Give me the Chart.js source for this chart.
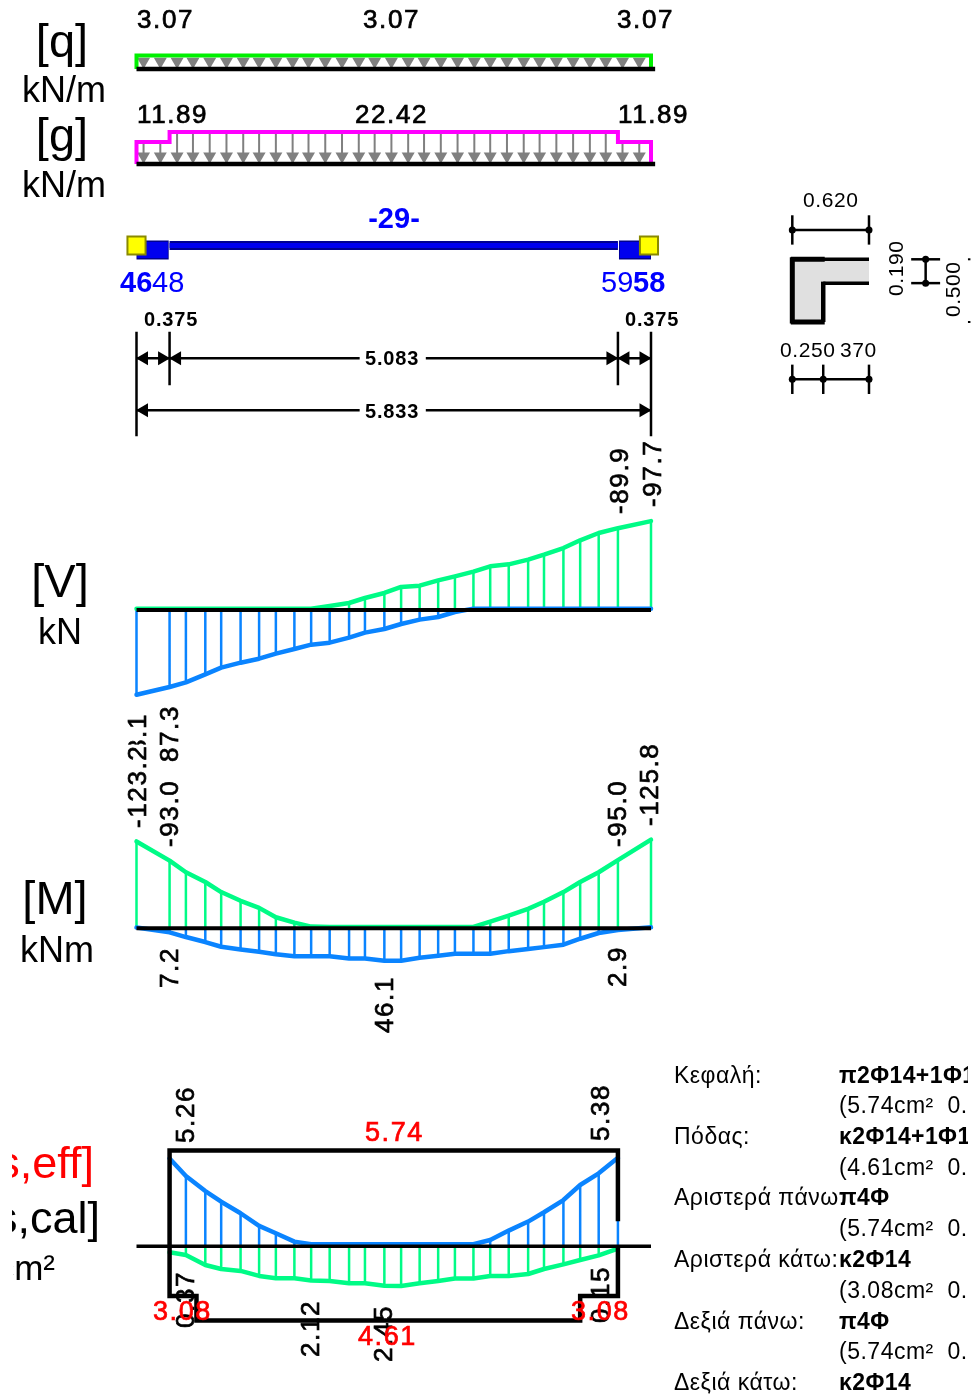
<!DOCTYPE html>
<html>
<head>
<meta charset="utf-8">
<style>
html, body { margin: 0; padding: 0; background: #fff; }
#wrap { position: relative; width: 971px; height: 1397px; overflow: hidden; }
#beam-chart { position: absolute; left: 0; top: 0; }
#section-chart { position: absolute; left: 760px; top: 170px; }
</style>
<script src="https://cdn.jsdelivr.net/npm/chart.js@4/dist/chart.umd.min.js"></script>
</head>
<body>
<div id="wrap">
<canvas id="beam-chart" width="971" height="1397"></canvas>
<canvas id="section-chart" width="211" height="240"></canvas>
</div>
<script>
// stations along the beam, metres
var stations = [0, 0.375, 0.56, 0.78, 0.96, 1.18, 1.39, 1.58, 1.79, 1.98, 2.19, 2.41, 2.59, 2.81, 3.00, 3.21, 3.42, 3.61, 3.82, 4.01, 4.22, 4.44, 4.62, 4.84, 5.03, 5.24, 5.458, 5.833]

// shear, kN
var shearBlue = [93.1, 84.6, 79.5, 70.7, 63.4, 57.9, 53.5, 48.0, 42.9, 38.1, 35.9, 30.4, 24.9, 20.9, 15.4, 10.6, 7.7, 2.2, -1.5, -1.5, -1.5, -1.5, -1.5, -1.5, -1.5, -1.5, -1.5, -1.5]
var shearGreen = [-1.5, -1.5, -1.5, -1.5, -1.5, -1.5, -1.5, -1.5, -1.5, -1.5, -4.4, -7.7, -13.2, -18.7, -25.3, -26.7, -32.6, -37.0, -42.1, -48.0, -50.2, -55.3, -60.8, -68.1, -76.6, -84.6, -89.9, -97.7]

// moment, kNm
var momentBlue = [-1, 5.7, 12.4, 19.5, 26.2, 30.0, 33.3, 36.7, 39.5, 39.5, 39.5, 42.9, 42.9, 46.1, 46.1, 41.9, 39.0, 36.2, 36.2, 36.2, 32.4, 29.5, 26.7, 23.3, 14.8, 6.7, 2.4, -1.4]
var momentGreen = [-123.2, -96.0, -79.5, -65.7, -51.4, -39.0, -29.0, -15.7, -8.1, -2.4, -2, -2, -2, -2, -2, -2, -2, -2, -2, -9.5, -18.1, -27.6, -37.6, -51.4, -65.7, -79.5, -96.7, -125.8]

// reinforcement between the supports, cm2
var asStations = [0.375, 0.56, 0.78, 0.96, 1.18, 1.39, 1.58, 1.79, 1.98, 2.19, 2.41, 2.59, 2.81, 3.00, 3.21, 3.42, 3.61, 3.82, 4.01, 4.22, 4.44, 4.62, 4.84, 5.03, 5.24, 5.458]
var asTopCal = [5.26, 4.21, 3.31, 2.67, 1.98, 1.22, 0.78, 0.28, 0.12, 0.12, 0.12, 0.12, 0.12, 0.12, 0.12, 0.12, 0.12, 0.12, 0.38, 0.94, 1.48, 2.04, 2.77, 3.67, 4.37, 5.3]
var asBottomCal = [0.37, 0.54, 1.16, 1.41, 1.53, 1.84, 1.99, 1.99, 2.12, 2.15, 2.30, 2.30, 2.45, 2.46, 2.30, 2.15, 2.00, 2.00, 1.84, 1.84, 1.72, 1.41, 1.12, 0.85, 0.56, 0.15]
var asTopEffX = [0.375, 0.375, 5.458, 5.458]
var asTopEff = [0, 5.74, 5.74, 1.5]
var asBottomEffX = [5.458, 5.458, 5.03, 5.03, 0.68, 0.68, 0.375, 0.375]
var asBottomEff = [0, 3.08, 3.08, 4.61, 4.61, 3.08, 3.08, 0]

// loads, kN/m
var qX = [0, 0, 5.833, 5.833]
var qLoad = [0, 3.07, 3.07, 0]
var gFloor = -11.26
var gX = [0, 0, 0.375, 0.375, 5.458, 5.458, 5.833, 5.833]
var gLoad = [gFloor, 11.89, 11.89, 22.42, 22.42, 11.89, 11.89, gFloor]
var loadArrows = [0.08, 0.27, 0.46, 0.64, 0.83, 1.02, 1.21, 1.39, 1.58, 1.77, 1.95, 2.14, 2.33, 2.52, 2.70, 2.89, 3.08, 3.26, 3.45, 3.64, 3.83, 4.01, 4.20, 4.39, 4.57, 4.76, 4.95, 5.14, 5.32, 5.51, 5.70]

// cross section, metres
var sectionWebX = [0, 0.25]
var sectionFlangeX = [0, 0.62]
var sectionDepth = 0.5
var sectionFlangeUnderside = 0.31

// texts
var qLabels = ['3.07', '3.07', '3.07']
var gLabels = ['11.89', '22.42', '11.89']
var dimLabels = ['0.375', '0.375', '5.083', '5.833']
var tableHeads = ['Κεφαλή:', 'Πόδας:', 'Αριστερά πάνω:', 'Αριστερά κάτω:', 'Δεξιά πάνω:', 'Δεξιά κάτω:']
var tableBars = ['π2Φ14+1Φ1', 'κ2Φ14+1Φ1', 'π4Φ', 'κ2Φ14', 'π4Φ', 'κ2Φ14']
var tableAreas = ['(5.74cm²  0.', '(4.61cm²  0.', '(5.74cm²  0.', '(3.08cm²  0.', '(5.74cm²  0.']

var W = 971, H = 1397
var BLUE = '#0a84ff', GREEN = '#00fb86', BLACK = '#000000', GRAY = '#808080'

// value axis with its zero at pixel `base` and `k` pixels per unit, positive going up
function upAxis(base, k) {
    return { type: 'linear', display: false, min: -(H - base) / k, max: base / k }
}
// same, positive going down
function downAxis(base, k) {
    return { type: 'linear', display: false, reverse: true, min: -base / k, max: (H - base) / k }
}

function pts(xs, ys) {
    return xs.map(function (x, i) { return { x: x, y: ys[i] } })
}
// vertical hatch lines from `from` to each value, with gaps between them
function hatch(xs, ys, from) {
    var out = []
    for (var i = 0; i < xs.length; i++) {
        out.push({ x: xs[i], y: from })
        out.push({ x: xs[i], y: ys[i] })
        out.push({ x: xs[i], y: NaN })
    }
    return out
}
function line(axis, data, color, width, extra) {
    return Object.assign({
        type: 'scatter', showLine: true, yAxisID: axis, data: data, borderColor: color,
        backgroundColor: color, borderWidth: width, pointRadius: 0, tension: 0, clip: false,
        borderCapStyle: 'butt', borderJoinStyle: 'miter'
    }, extra || {})
}
function marks(axis, data, color, radius, rotation, style) {
    return {
        type: 'scatter', showLine: false, yAxisID: axis, data: data, pointStyle: style || 'triangle',
        pointRadius: radius, pointRotation: rotation, backgroundColor: color, borderColor: color,
        pointBorderWidth: 0, clip: false
    }
}
function constant(xs, y) {
    return xs.map(function (x) { return { x: x, y: y } })
}
function gAt(x) {
    return (x < 0.375 || x > 5.458) ? 11.89 : 22.42
}

function buildBeamDatasets() {
    var sets = []
    var round = { borderCapStyle: 'round', borderJoinStyle: 'round' }

    // q
    sets.push(marks('yQ', constant(loadArrows, 1.7), GRAY, 7.5, 180))
    sets.push(line('yQ', pts(qX, qLoad), '#00f000', 4))
    sets.push(line('yQ', constant([0, 5.88], 0), BLACK, 4.5))

    // g
    sets.push(line('yG', hatch(loadArrows, loadArrows.map(gAt), gFloor), GRAY, 2))
    sets.push(marks('yG', constant(loadArrows, -3.05), GRAY, 7.5, 180))
    sets.push(line('yG', pts(gX, gLoad), '#ff00ff', 4))
    sets.push(line('yG', constant([0, 5.88], gFloor), BLACK, 4.5))

    // beam elevation
    sets.push(line('yBeam', constant([0, 0.365], 4.5), '#000090', 19))
    sets.push(line('yBeam', constant([5.47, 5.833], 4.5), '#000090', 19))
    sets.push(line('yBeam', constant([0.01, 0.355], 4.5), '#0000ee', 16))
    sets.push(line('yBeam', constant([5.48, 5.823], 4.5), '#0000ee', 16))
    sets.push(line('yBeam', constant([0.375, 5.458], 0), '#000090', 9))
    sets.push(line('yBeam', constant([0.375, 5.458], 0), '#0000ee', 5))
    sets.push(Object.assign(marks('yBeam', constant([0, 5.81], 0), '#ffff00', 12.8, 0, 'rect'), { pointBorderColor: '#8a8a00', pointBorderWidth: 2 }))

    // dimension lines
    ;[0, 0.375, 5.458, 5.833].forEach(function (x) {
        var long = (x === 0 || x === 5.833)
        sets.push(line('yDim', constant([x, x], 0).map(function (p, i) { return { x: x, y: i ? (long ? 78 : 27) : -26.5 } }), BLACK, 2.5))
    })
    sets.push(line('yDim', [{ x: 0, y: 0 }, { x: 2.53, y: 0 }, { x: NaN, y: 0 }, { x: 3.28, y: 0 }, { x: 5.833, y: 0 }], BLACK, 2.5))
    sets.push(line('yDim', [{ x: 0, y: 52 }, { x: 2.53, y: 52 }, { x: NaN, y: 52 }, { x: 3.28, y: 52 }, { x: 5.833, y: 52 }], BLACK, 2.5))
    sets.push(marks('yDim', constant([0.085, 0.46, 5.543], 0), BLACK, 8, -90))
    sets.push(marks('yDim', constant([0.29, 5.373, 5.748], 0), BLACK, 8, 90))
    sets.push(marks('yDim', constant([0.085], 52), BLACK, 8, -90))
    sets.push(marks('yDim', constant([5.748], 52), BLACK, 8, 90))

    // shear
    sets.push(line('yV', hatch(stations, shearBlue, 0), BLUE, 2.5))
    sets.push(line('yV', hatch(stations, shearGreen, 0), GREEN, 2.5))
    sets.push(line('yV', pts(stations, shearBlue), BLUE, 4.5, round))
    sets.push(line('yV', pts(stations, shearGreen), GREEN, 4.5, round))
    sets.push(line('yV', constant([0, 5.833], 0), BLACK, 4))

    // moment
    sets.push(line('yM', hatch(stations, momentBlue, 0), BLUE, 2.5))
    sets.push(line('yM', hatch(stations, momentGreen, 0), GREEN, 2.5))
    sets.push(line('yM', pts(stations, momentBlue), BLUE, 4.5, round))
    sets.push(line('yM', pts(stations, momentGreen), GREEN, 4.5, round))
    sets.push(line('yM', constant([0, 5.833], 0), BLACK, 4))

    // reinforcement
    sets.push(line('yAsTop', hatch(asStations, asTopCal, 0), BLUE, 2.5))
    sets.push(line('yAsBot', hatch(asStations, asBottomCal, 0), GREEN, 2.5))
    sets.push(line('yAsTop', pts(asStations, asTopCal), BLUE, 4.5, round))
    sets.push(line('yAsBot', pts(asStations, asBottomCal), GREEN, 4.5, round))
    sets.push(line('yAsTop', pts(asTopEffX, asTopEff), BLACK, 4.5))
    sets.push(line('yAsBot', pts(asBottomEffX, asBottomEff), BLACK, 4.5))
    sets.push(line('yAsTop', constant([0, 5.833], 0), BLACK, 3.5))

    // chart.js paints the first dataset last
    return sets.reverse()
}

function flat(ctx, text, x, y, opt) {
    opt = opt || {}
    ctx.save()
    ctx.font = (opt.bold ? 'bold ' : '') + (opt.size || 26) + 'px "Liberation Sans", Arial, sans-serif'
    ctx.fillStyle = opt.color || BLACK
    ctx.strokeStyle = opt.color || BLACK
    ctx.lineWidth = opt.heavy === undefined ? 0.7 : opt.heavy
    ctx.textAlign = opt.align || 'left'
    ctx.textBaseline = 'alphabetic'
    ctx.letterSpacing = (opt.spacing === undefined ? 1.6 : opt.spacing) + 'px'
    if (opt.clipLeft !== undefined || opt.clipRight !== undefined) {
        var l = opt.clipLeft || 0
        ctx.beginPath()
        ctx.rect(l, 0, (opt.clipRight || W) - l, H)
        ctx.clip()
    }
    ctx.fillText(text, x, y)
    if (ctx.lineWidth && opt.heavy !== 0) ctx.strokeText(text, x, y)
    ctx.restore()
}
// text reading upwards, `x` is the baseline, `y` the start of the text
function up(ctx, text, x, y, opt) {
    opt = opt || {}
    ctx.save()
    ctx.translate(x, y)
    ctx.rotate(-Math.PI / 2)
    ctx.font = (opt.size || 26) + 'px "Liberation Sans", Arial, sans-serif'
    ctx.letterSpacing = (opt.spacing === undefined ? 1.6 : opt.spacing) + 'px'
    if (opt.white) {
        ctx.fillStyle = '#fff'
        ctx.fillRect(0, -20, ctx.measureText(text).width, 24)
    }
    ctx.fillStyle = BLACK
    ctx.strokeStyle = BLACK
    ctx.lineWidth = 0.7
    ctx.fillText(text, 0, 0)
    if (opt.heavy !== 0) ctx.strokeText(text, 0, 0)
    ctx.restore()
}

var beamText = {
    id: 'beamText',
    afterDraw: function (chart) {
        var ctx = chart.ctx

        // side titles
        var big = { size: 47, spacing: 0, align: 'center', heavy: 0 }
        var unit = { size: 36, spacing: 0, align: 'center', heavy: 0 }
        flat(ctx, '[q]', 62, 57, big)
        flat(ctx, 'kN/m', 64, 102, unit)
        flat(ctx, '[g]', 62, 151, big)
        flat(ctx, 'kN/m', 64, 197, unit)
        flat(ctx, '[V]', 60, 597, big)
        flat(ctx, 'kN', 60, 644, unit)
        flat(ctx, '[M]', 55, 914, big)
        flat(ctx, 'kNm', 57, 962, unit)
        flat(ctx, '[As,eff]', 94, 1178, { size: 45, spacing: 0, align: 'right', color: '#ff0000', clipLeft: 12, heavy: 0 })
        flat(ctx, '[As,cal]', 100, 1233, { size: 45, spacing: 0, align: 'right', clipLeft: 12, heavy: 0 })
        flat(ctx, 'cm²', 55, 1280, { size: 35, spacing: 0, align: 'right', clipLeft: 13, heavy: 0 })

        // loads
        flat(ctx, qLabels[0], 137, 28)
        flat(ctx, qLabels[1], 363, 28)
        flat(ctx, qLabels[2], 617, 28)
        flat(ctx, gLabels[0], 137, 123)
        flat(ctx, gLabels[1], 355, 123)
        flat(ctx, gLabels[2], 618, 123)

        // beam names
        flat(ctx, '-29-', 394, 228, { bold: true, color: '#0000ff', size: 29, spacing: 0, align: 'center', heavy: 0 })
        flat(ctx, '46', 120, 292, { bold: true, color: '#0000ff', size: 29, spacing: 0, heavy: 0 })
        flat(ctx, '48', 152, 292, { color: '#0000ff', size: 29, spacing: 0, heavy: 0 })
        flat(ctx, '59', 601, 292, { color: '#0000ff', size: 29, spacing: 0, heavy: 0 })
        flat(ctx, '58', 633, 292, { bold: true, color: '#0000ff', size: 29, spacing: 0, heavy: 0 })

        // dimensions
        var dim = { bold: true, size: 20, spacing: 0.8, heavy: 0 }
        flat(ctx, dimLabels[0], 144, 326, dim)
        flat(ctx, dimLabels[1], 625, 326, dim)
        flat(ctx, dimLabels[2], 365, 365, dim)
        flat(ctx, dimLabels[3], 365, 418, dim)

        // shear labels
        up(ctx, '-89.9', 628, 514)
        up(ctx, '-97.7', 661, 507)
        up(ctx, '93.1', 146, 770)
        up(ctx, '87.3', 178, 762)

        // moment labels
        up(ctx, '-123.2', 146, 828, { white: true })
        up(ctx, '-93.0', 178, 847)
        up(ctx, '7.2', 178, 988)
        up(ctx, '46.1', 393, 1033)
        up(ctx, '2.9', 626, 987)
        up(ctx, '-95.0', 626, 847)
        up(ctx, '-125.8', 658, 826)

        // reinforcement labels
        up(ctx, '5.26', 194, 1143)
        up(ctx, '5.38', 609, 1141)
        up(ctx, '0.37', 194, 1328)
        up(ctx, '0.15', 609, 1323)
        up(ctx, '2.12', 319, 1357)
        up(ctx, '2.45', 392, 1362)
        var red = { color: '#ff0000', size: 27 }
        flat(ctx, '5.74', 365, 1141, red)
        flat(ctx, '3.08', 153, 1320, red)
        flat(ctx, '3.08', 571, 1320, red)
        flat(ctx, '4.61', 358, 1345, red)

        // notes on the right
        var rowY = [1083, 1113, 1144, 1175, 1205, 1236, 1267, 1298, 1329, 1359, 1390]
        var note = { size: 23, spacing: 0.5, clipRight: 968, heavy: 0 }
        var noteBold = { size: 23, spacing: 0.4, bold: true, clipRight: 968, heavy: 0 }
        tableHeads.forEach(function (t, i) {
            flat(ctx, t, 674, rowY[i * 2], note)
            flat(ctx, tableBars[i], 839, rowY[i * 2], noteBold)
            if (tableAreas[i]) flat(ctx, tableAreas[i], 839, rowY[i * 2 + 1], note)
        })
    }
}

var beamChart = new Chart(document.getElementById('beam-chart'), {
    type: 'scatter',
    data: { datasets: buildBeamDatasets() },
    plugins: [beamText],
    options: {
        responsive: false,
        animation: false,
        layout: { autoPadding: false, padding: { left: 136.5, right: W - 651, top: 0, bottom: 0 } },
        plugins: { legend: { display: false }, tooltip: { enabled: false } },
        scales: {
            x: { type: 'linear', display: false, min: 0, max: 5.833 },
            yQ: upAxis(69, 4.4),
            yG: upAxis(153.3, 0.95),
            yBeam: downAxis(245.5, 1),
            yDim: downAxis(358.3, 1),
            yV: downAxis(610, 0.91),
            yM: downAxis(928.3, 0.705),
            yAsTop: upAxis(1246.3, 16.7),
            yAsBot: downAxis(1246.3, 16.1)
        }
    }
})

// cross section with its own scales, metres
var SX = 123.7, SY = 125.4, S0X = 792.3 - 760, S0Y = 322 - 170
var tickHalf = 0.117
function bar(x0, x1, y) { return [{ x: x0, y: y }, { x: x1, y: y }] }
function post(x, y0, y1) { return [{ x: x, y: y0 }, { x: x, y: y1 }] }
function sLine(data, width, color, extra) {
    return line('y', data, color || BLACK, width, extra)
}
var d = sectionDepth, u = sectionFlangeUnderside, bw = sectionWebX[1], bf = sectionFlangeX[1]
var dimTop = 0.734, dimBottom = -0.457, dimRight = 1.078, dimFar = 1.42

var sectionSets = [
    sLine(bar(0, bf, d), 0, '#e0e0e0', { fill: { value: u }, backgroundColor: '#e0e0e0' }),
    sLine(bar(0, bw, d), 0, '#e0e0e0', { fill: { value: 0 }, backgroundColor: '#e0e0e0' }),
    sLine(bar(bw, bf, d), 3.5),
    sLine(bar(bw, bf, u), 3.5),
    sLine(post(bw, 0, u + 0.012), 4.5),
    sLine(post(0, -0.012, d + 0.016), 5),
    sLine(bar(-0.012, bw + 0.012, d), 5),
    sLine(bar(-0.012, bw + 0.012, 0), 5),
    // dimensions
    sLine(bar(0, bf, dimTop), 2.5),
    sLine(post(0, dimTop - tickHalf, dimTop + tickHalf), 2.5),
    sLine(post(bf, dimTop - tickHalf, dimTop + tickHalf), 2.5),
    sLine(bar(0, bf, dimBottom), 2.5),
    sLine(post(0, dimBottom - tickHalf, dimBottom + tickHalf), 2.5),
    sLine(post(bw, dimBottom - tickHalf, dimBottom + tickHalf), 2.5),
    sLine(post(bf, dimBottom - tickHalf, dimBottom + tickHalf), 2.5),
    sLine(post(dimRight, u, d), 2.5),
    sLine(bar(dimRight - tickHalf, dimRight + tickHalf, d), 2.5),
    sLine(bar(dimRight - tickHalf, dimRight + tickHalf, u), 2.5),
    sLine(bar(dimFar, dimFar + 0.02, d), 2),
    sLine(bar(dimFar, dimFar + 0.02, 0), 2),
    marks('y', constant([0, bf], dimTop), BLACK, 3.5, 0, 'circle'),
    marks('y', constant([0, bw, bf], dimBottom), BLACK, 3.5, 0, 'circle'),
    marks('y', [{ x: dimRight, y: d }, { x: dimRight, y: u }], BLACK, 3.5, 0, 'circle')
]

var sectionText = {
    id: 'sectionText',
    afterDraw: function (chart) {
        var ctx = chart.ctx
        var t = { size: 21, spacing: 0.6, heavy: 0 }
        flat(ctx, '0.620', 43, 37, t)
        flat(ctx, '0.250', 20, 187, t)
        flat(ctx, '370', 80, 187, t)
        up(ctx, '0.190', 143, 126, t)
        up(ctx, '0.500', 200, 147, t)
    }
}

var sectionChart = new Chart(document.getElementById('section-chart'), {
    type: 'scatter',
    data: { datasets: sectionSets.reverse() },
    plugins: [sectionText],
    options: {
        responsive: false,
        animation: false,
        layout: { autoPadding: false },
        plugins: { legend: { display: false }, tooltip: { enabled: false } },
        scales: {
            x: { type: 'linear', display: false, min: -S0X / SX, max: (211 - S0X) / SX },
            y: { type: 'linear', display: false, min: -(240 - S0Y) / SY, max: S0Y / SY }
        }
    }
})
</script>
</body>
</html>
